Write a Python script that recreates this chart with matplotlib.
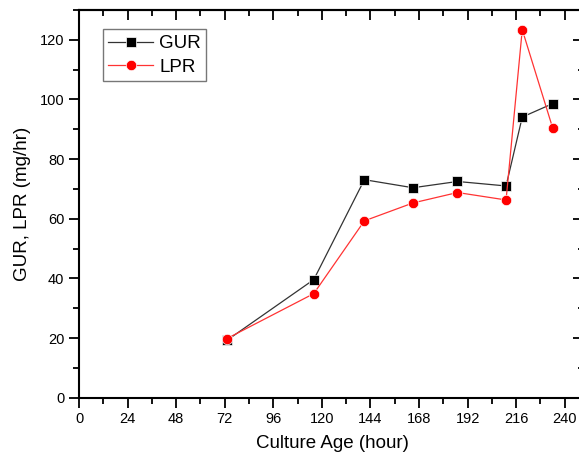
import matplotlib
matplotlib.use("Agg")
import matplotlib.pyplot as plt
from matplotlib.ticker import MultipleLocator

plt.rcParams['font.family'] = ['Liberation Sans', 'DejaVu Sans']

hours = [73, 116, 141, 165, 187, 211, 219, 234]
gur = [19.2, 39.6, 73.1, 70.4, 72.5, 71.0, 94.1, 98.6]
lpr = [19.8, 34.9, 59.3, 65.3, 68.8, 66.3, 123.4, 90.5]

fig = plt.figure(figsize=(5.79, 4.61), dpi=100)
ax = fig.add_axes([79/579, 63.3/461, 506/579, 387.7/461])

ax.plot(hours, gur, color='#333333', lw=0.9, marker='s', ms=6.5,
        mfc='black', mec='white', mew=0.5, label='GUR', zorder=3)
ax.plot(hours, lpr, color='#ff3333', lw=0.9, marker='o', ms=7.5,
        mfc='red', mec='white', mew=0.5, label='LPR', zorder=3)

ax.set_xlim(0, 250)
ax.set_ylim(0, 130)
ax.xaxis.set_major_locator(MultipleLocator(24))
ax.xaxis.set_minor_locator(MultipleLocator(12))
ax.yaxis.set_major_locator(MultipleLocator(20))
ax.yaxis.set_minor_locator(MultipleLocator(10))
ax.set_xticks(range(0, 241, 24))

for s in ax.spines.values():
    s.set_linewidth(1.5)

ax.tick_params(axis='both', which='major', direction='out', length=7, width=1.3,
               labelsize=10.5, top=False, right=False)
ax.tick_params(axis='both', which='minor', direction='out', length=4, width=1.3,
               top=False, right=False)

# top/right inward ticks via secondary axes
axt = ax.secondary_xaxis('top')
axt.xaxis.set_major_locator(MultipleLocator(24))
axt.xaxis.set_minor_locator(MultipleLocator(12))
axt.tick_params(which='major', direction='in', length=7, width=1.3, labeltop=False)
axt.tick_params(which='minor', direction='in', length=4, width=1.3)
axt.spines['top'].set_linewidth(1.5)
axr = ax.secondary_yaxis('right')
axr.yaxis.set_major_locator(MultipleLocator(20))
axr.yaxis.set_minor_locator(MultipleLocator(10))
axr.tick_params(which='major', direction='in', length=9, width=1.3, labelright=False)
axr.tick_params(which='minor', direction='in', length=5, width=1.3)
axr.spines['right'].set_visible(False)
ax.spines['right'].set_visible(False)

ax.set_xlabel('Culture Age (hour)', fontsize=13.5, labelpad=6)
ax.set_ylabel('GUR, LPR (mg/hr)', fontsize=13.5, labelpad=6)

leg = ax.legend(loc='upper left', bbox_to_anchor=(0.047, 0.95), fontsize=13.5,
                frameon=True, fancybox=False, edgecolor='#555555',
                handlelength=2.4, handletextpad=0.3, borderpad=0.3,
                labelspacing=0.35, borderaxespad=0)
leg.get_frame().set_linewidth(1.0)

fig.savefig('out.png', dpi=100)
